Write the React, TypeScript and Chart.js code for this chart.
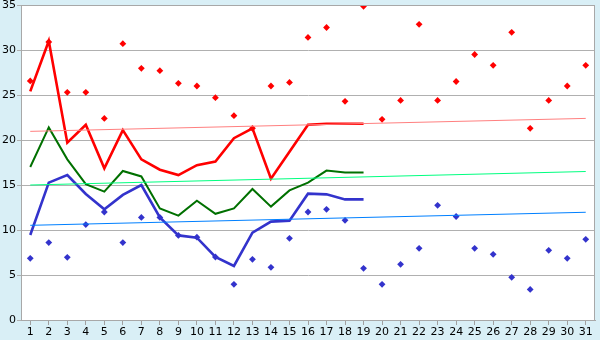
import React, { useEffect, useRef } from "react";
import { Chart, registerables } from "chart.js";

Chart.register(...registerables);

const categories = Array.from({ length: 31 }, (_, i) => String(i + 1));

const redLine = [25.4, 31.0, 19.7, 21.7, 16.85, 21.1, 17.85, 16.7, 16.1, 17.2, 17.6, 20.2, 21.3, 15.7, 18.7, 21.7, 21.8, 21.8, 21.8];
const greenLine = [17.0, 21.4, 17.85, 15.1, 14.26, 16.56, 15.95, 12.4, 11.6, 13.26, 11.8, 12.4, 14.56, 12.6, 14.4, 15.26, 16.6, 16.4, 16.4];
const blueLine = [9.44, 15.26, 16.1, 14.0, 12.3, 13.9, 15.0, 11.4, 9.4, 9.15, 7.0, 6.0, 9.7, 10.93, 11.04, 14.04, 13.96, 13.4, 13.4];

const redPoints = [26.56, 30.9, 25.3, 25.3, 22.4, 30.7, 27.96, 27.7, 26.3, 26.0, 24.7, 22.7, 21.3, 26.0, 26.4, 31.4, 32.5, 24.3, 34.85, 22.3, 24.4, 32.85, 24.4, 26.5, 29.5, 28.3, 31.96, 21.3, 24.4, 26.0, 28.3];
const bluePoints = [6.85, 8.6, 6.96, 10.6, 12.0, 8.6, 11.4, 11.4, 9.4, 9.2, 7.0, 3.96, 6.74, 5.85, 9.07, 12.0, 12.3, 11.07, 5.74, 3.96, 6.19, 7.96, 12.74, 11.5, 7.96, 7.3, 4.74, 3.4, 7.74, 6.85, 8.96];

const redTrend = [20.96, 22.4];
const greenTrend = [15.0, 16.5];
const blueTrend = [10.52, 11.97];

const yTicks = [0, 5, 10, 15, 20, 25, 30, 35];

function endpoints(pair: number[]) {
  return categories.map((_, i) => (i === 0 ? pair[0] : i === categories.length - 1 ? pair[1] : null));
}

const bgPlugin = {
  id: "bgPlugin",
  beforeDraw(chart: any) {
    const { ctx, chartArea } = chart;
    ctx.save();
    ctx.fillStyle = "#d9eff6";
    ctx.fillRect(0, 0, chart.width, chart.height);
    ctx.fillStyle = "#ffffff";
    ctx.fillRect(chartArea.left, chartArea.top, chartArea.right - chartArea.left, chartArea.bottom - chartArea.top);
    ctx.restore();
  },
  afterDatasetsDraw(chart: any) {
    const { ctx, chartArea } = chart;
    ctx.save();
    ctx.strokeStyle = "#a8a8a8";
    ctx.lineWidth = 1;
    ctx.strokeRect(Math.round(chartArea.left) + 0.5, Math.round(chartArea.top) + 0.5, Math.round(chartArea.right - chartArea.left) - 1, Math.round(chartArea.bottom - chartArea.top));
    ctx.restore();
  },
};

export default function App() {
  const ref = useRef<HTMLCanvasElement | null>(null);
  useEffect(() => {
    if (!ref.current) return;
    const lineDs = (label: string, data: (number | null)[], color: string, width: number) => ({
      type: "line" as const,
      label,
      data,
      borderColor: color,
      backgroundColor: color,
      borderWidth: width,
      pointRadius: 0,
      tension: 0,
      fill: false,
      spanGaps: false,
    });
    const trendDs = (label: string, pair: number[], color: string) => ({
      type: "line" as const,
      label,
      data: endpoints(pair),
      borderColor: color,
      backgroundColor: color,
      borderWidth: 1,
      pointRadius: 0,
      tension: 0,
      fill: false,
      spanGaps: true,
    });
    const pointDs = (label: string, data: number[], color: string) => ({
      type: "line" as const,
      label,
      data,
      showLine: false,
      borderColor: color,
      backgroundColor: color,
      pointStyle: "rectRot" as const,
      pointRadius: 3.4,
      pointBorderWidth: 0,
    });
    const chart = new Chart(ref.current, {
      type: "line",
      data: {
        labels: categories,
        datasets: [
          trendDs("Red trend", redTrend, "#ff8080"),
          trendDs("Green trend", greenTrend, "#00ff80"),
          trendDs("Blue trend", blueTrend, "#0080ff"),
          lineDs("Red", redLine, "#ff0000", 2.6),
          lineDs("Green", greenLine, "#007000", 2),
          lineDs("Blue", blueLine, "#3333cc", 2.6),
          pointDs("Red points", redPoints, "#ff0000"),
          pointDs("Blue points", bluePoints, "#3333cc"),
        ],
      },
      options: {
        animation: false,
        responsive: false,
        maintainAspectRatio: false,
        layout: { padding: { top: 5, right: 5, left: 0, bottom: 0 } },
        plugins: { legend: { display: false }, tooltip: { enabled: false } },
        scales: {
          x: {
            type: "category",
            offset: true,
            grid: { offset: false, drawOnChartArea: false, drawTicks: true, tickLength: 5, color: "#a0a0a0" },
            border: { color: "#a8a8a8" },
            ticks: { color: "#000", font: { family: "DejaVu Sans", size: 11 }, padding: 1, maxRotation: 0, autoSkip: false },
            afterFit(scale: any) {
              scale.height = 20;
              scale.paddingLeft = 0;
              scale.paddingRight = 0;
            },
          },
          y: {
            min: 0,
            max: 35,
            afterBuildTicks(scale: any) {
              scale.ticks = yTicks.map((v) => ({ value: v }));
            },
            grid: { color: "#b0b0b0", tickLength: 4, drawTicks: true },
            border: { color: "#a8a8a8" },
            ticks: { color: "#000", font: { family: "DejaVu Sans", size: 11 }, padding: 1 },
            afterFit(scale: any) {
              scale.width = 21;
              scale.paddingTop = 0;
              scale.paddingBottom = 0;
            },
          },
        },
      },
      plugins: [bgPlugin],
    });
    return () => chart.destroy();
  }, []);
  return (
    <div style={{ position: "absolute", left: 0, top: 0, width: 600, height: 340 }}>
      <canvas ref={ref} width={600} height={340} style={{ width: 600, height: 340, display: "block" }} />
    </div>
  );
}
